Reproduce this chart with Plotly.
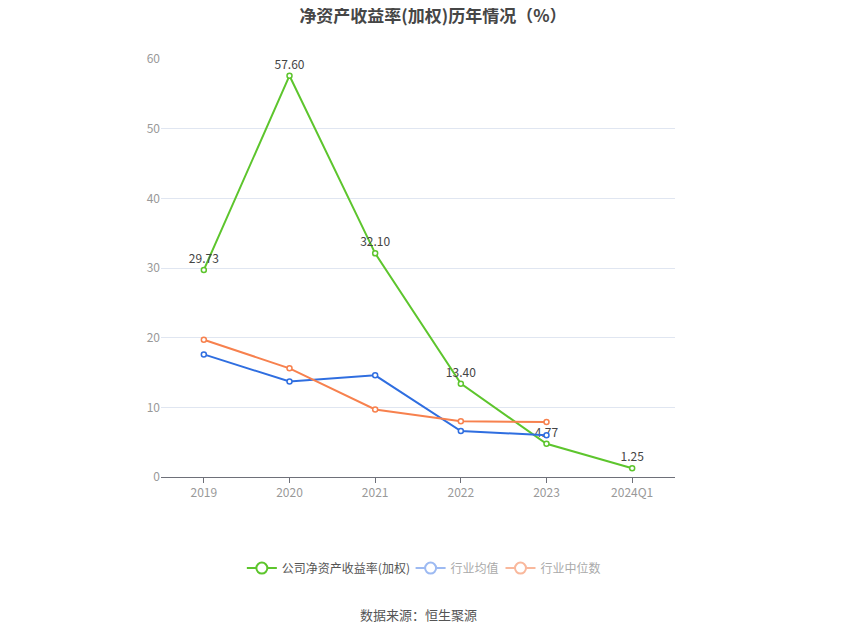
import plotly.graph_objects as go

# ROE history (%)
years = ['2019', '2020', '2021', '2022', '2023', '2024Q1']
company_roe = [29.73, 57.60, 32.10, 13.40, 4.77, 1.25]
industry_avg = [17.6, 13.7, 14.6, 6.6, 6.0]
industry_median = [19.7, 15.6, 9.7, 8.0, 7.9]

GREEN = '#5dc52d'
BLUE = '#2f6ee0'
ORANGE = '#f7814e'

fig = go.Figure()

marker_style = dict(symbol='circle', size=5, color='#ffffff')

fig.add_trace(go.Scatter(
    x=years, y=company_roe, mode='lines+markers+text',
    text=['%.2f' % v for v in company_roe], textposition='top center',
    textfont=dict(size=12, color='#444444'),
    line=dict(color=GREEN, width=2),
    marker=dict(marker_style, line=dict(color=GREEN, width=1.5)),
    showlegend=False, cliponaxis=False,
))
fig.add_trace(go.Scatter(
    x=years[:5], y=industry_avg, mode='lines+markers',
    line=dict(color=BLUE, width=2),
    marker=dict(marker_style, line=dict(color=BLUE, width=1.5)),
    showlegend=False,
))
fig.add_trace(go.Scatter(
    x=years[:5], y=industry_median, mode='lines+markers',
    line=dict(color=ORANGE, width=2),
    marker=dict(marker_style, line=dict(color=ORANGE, width=1.5)),
    showlegend=False,
))

# legend entries (the two industry ones are drawn faded like the original)
legend_items = [
    ('公司净资产收益率(加权)', GREEN, 'legend'),
    ('行业均值', '#9dbaf2', 'legend2'),
    ('行业中位数', '#f9b89c', 'legend3'),
]
for name, color, lg in legend_items:
    fig.add_trace(go.Scatter(
        x=[None], y=[None], mode='lines+markers', name=name,
        line=dict(color=color, width=2),
        marker=dict(symbol='circle', size=11, color='#ffffff', line=dict(color=color, width=2)),
        legend=lg,
    ))

legend_common = dict(orientation='h', yanchor='middle', y=-0.218, xanchor='left',
                     bgcolor='rgba(0,0,0,0)', itemwidth=30)

fig.update_layout(
    width=850, height=637,
    margin=dict(l=153, r=183, t=51, b=168),
    paper_bgcolor='#ffffff', plot_bgcolor='#ffffff',
    font=dict(family='Noto Sans CJK SC, sans-serif', size=12, color='#999999'),
    title=dict(text='<b>净资产收益率(加权)历年情况（%）</b>', x=0.5, xanchor='center',
               yref='container', y=1, yanchor='top', pad=dict(t=2),
               font=dict(size=17, color='#464646')),
    xaxis=dict(range=[-0.5, 5.5], showgrid=False, showline=True, linecolor='#6e7079',
               linewidth=1, ticks='outside', ticklen=5, tickcolor='#6e7079',
               tickfont=dict(size=12, color='#999999'), fixedrange=True),
    yaxis=dict(range=[0, 60], dtick=10, showgrid=True, gridcolor='#e0e6f1',
               zeroline=False, showline=False, ticks='',
               tickfont=dict(size=12, color='#999999'), fixedrange=True),
    legend=dict(legend_common, x=0.1573, font=dict(size=12, color='#555555')),
    legend2=dict(legend_common, x=0.4856, font=dict(size=12, color='#aaaaaa')),
    legend3=dict(legend_common, x=0.6605, font=dict(size=12, color='#aaaaaa')),
)

fig.add_annotation(text='数据来源：恒生聚源', xref='paper', yref='paper',
                   x=0.5, y=-0.328, showarrow=False, yanchor='middle',
                   font=dict(size=13, color='#555555'))

fig.write_html('out.html')
